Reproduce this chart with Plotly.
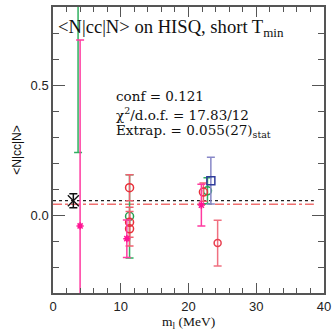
import plotly.graph_objects as go

# ---- data ----
green_x = [3.7, 11.3, 22.8]
green_y = [1.0, -0.005, 0.093]
green_err = [0.76, 0.16, 0.05]

red_x = [11.3, 11.3, 11.3, 22.2]
red_y = [0.105, -0.028, -0.053, 0.088]
red_err = [0.05, 0.058, 0.066, 0.035]

red2_x = [24.3]
red2_y = [-0.108]
red2_err = [0.088]

magenta_x = [4.0, 10.9, 21.9]
magenta_y = [-0.042, -0.091, 0.038]
magenta_err = [0.715, 0.072, 0.08]

blue_x = [23.3]
blue_y = [0.132]
blue_err = [0.09]

extrap_x = [3.0]
extrap_y = [0.055]
extrap_err = [0.027]

fit_x = [0, 38.5]
fit_black_y = [0.055, 0.055]
fit_red_y = [0.041, 0.041]

x_ticks = [0, 10, 20, 30, 40]
y_ticks = [0.0, 0.5]

fig = go.Figure()

fig.add_trace(go.Scatter(x=fit_x, y=fit_black_y, mode="lines",
                         line=dict(color="#222222", width=1.2, dash="dot")))
fig.add_trace(go.Scatter(x=fit_x, y=fit_red_y, mode="lines",
                         line=dict(color="#f07070", width=1.5, dash="dashdot")))


def eb(x, y, e, color, barcolor, symbol, size, lw=1.5):
    fig.add_trace(go.Scatter(
        x=x, y=y, mode="markers",
        marker=dict(symbol=symbol, size=size, color=color,
                    line=dict(color=color, width=lw)),
        error_y=dict(type="data", array=e, visible=True, color=barcolor,
                     thickness=1.5, width=4),
    ))


eb(green_x, green_y, green_err, "#20a050", "#30b060", "circle-open", 8)
eb(red_x, red_y, red_err, "#e8303a", "#f06070", "circle-open", 8)
eb(red2_x, red2_y, red2_err, "#e84050", "#f07080", "circle-open", 7)
eb(magenta_x, magenta_y, magenta_err, "#ff1493", "#ff3aa0", "asterisk-open", 6)
eb(blue_x, blue_y, blue_err, "#303c9c", "#8888c8", "square-open", 8)
eb(extrap_x, extrap_y, extrap_err, "#111111", "#111111", "x-thin-open", 11, lw=1.3)

fig.add_annotation(xref="paper", yref="paper", x=0.012, y=0.925,
                   xanchor="left", yanchor="middle", showarrow=False,
                   text="&lt;N|cc|N&gt; on HISQ, short T<sub>min</sub>",
                   font=dict(family="Liberation Serif", size=18.6, color="#111"))

lines = ["conf = 0.121",
         "χ<sup>2</sup>/d.o.f. = 17.83/12",
         "Extrap. = 0.055(27)<sub>stat</sub>"]
for t, yy in zip(lines, [0.689, 0.626, 0.566]):
    fig.add_annotation(xref="paper", yref="paper", x=0.225, y=yy,
                       xanchor="left", yanchor="middle", showarrow=False,
                       text=t, font=dict(family="DejaVu Serif", size=13.5, color="#111"))

# x-axis title placed as a paper annotation below the tick labels
fig.add_annotation(xref="paper", yref="paper", x=0.5, y=-0.104,
                   xanchor="center", yanchor="middle", showarrow=False,
                   text="m<sub>l</sub> (MeV)",
                   font=dict(family="Liberation Serif", size=13.5, color="#111"))

axis_common = dict(showgrid=False, zeroline=False, showline=True, linecolor="#555",
                   linewidth=1.5, mirror="ticks", ticks="inside", tickcolor="#555",
                   tickwidth=1.2, automargin=False,
                   tickfont=dict(family="Liberation Sans", size=13, color="#222"))

fig.update_xaxes(range=[0, 40], tickvals=x_ticks, ticklen=10, ticklabelstandoff=1,
                 minor=dict(dtick=2, ticks="inside", ticklen=5, tickcolor="#555", tickwidth=1.2),
                 **axis_common)
fig.update_yaxes(range=[-0.3, 0.8], tickvals=y_ticks, ticktext=["0.0", "0.5"], ticklen=12,
                 minor=dict(dtick=0.1, tick0=0, ticks="inside", ticklen=6, tickcolor="#555", tickwidth=1.2),
                 title=dict(text="&lt;N|cc|N&gt;", standoff=6,
                            font=dict(family="Liberation Sans", size=12, color="#111")),
                 **axis_common)

fig.update_layout(width=332, height=331, showlegend=False,
                  margin=dict(l=53, r=8, t=7, b=38),
                  paper_bgcolor="white", plot_bgcolor="white")

fig.write_html("out.html", config={"displayModeBar": False},
               post_script="document.body.style.margin='0';document.body.style.padding='0';")
